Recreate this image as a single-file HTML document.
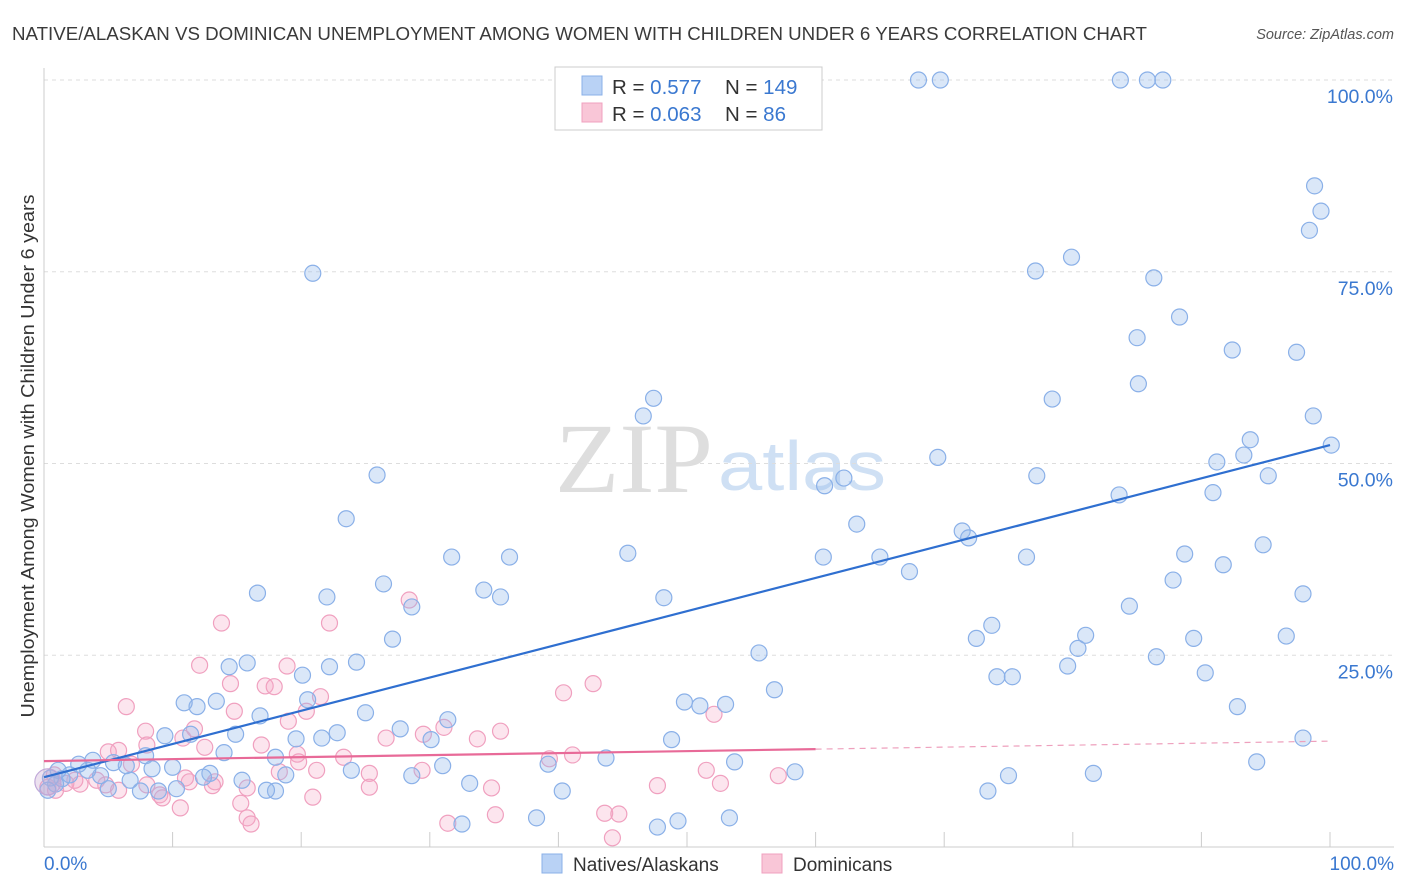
<!DOCTYPE html>
<html><head><meta charset="utf-8">
<style>
body{margin:0;background:#fff;font-family:"Liberation Sans",sans-serif;}
#c{position:relative;width:1406px;height:892px;overflow:hidden;}
</style></head>
<body>
<div id="c">
<svg id="s" width="1406" height="892">
<text x="12" y="40" font-size="18" fill="#3a3a3a" textLength="1135" lengthAdjust="spacingAndGlyphs">NATIVE/ALASKAN VS DOMINICAN UNEMPLOYMENT AMONG WOMEN WITH CHILDREN UNDER 6 YEARS CORRELATION CHART</text>
<text x="1394" y="39" font-size="14.5" fill="#555" font-style="italic" text-anchor="end">Source: ZipAtlas.com</text>
<text x="555" y="492" font-size="100" fill="#dedede" textLength="158" lengthAdjust="spacingAndGlyphs" font-family="Liberation Serif,serif">ZIP</text>
<text x="718" y="490" font-size="70" fill="#cfe0f4" textLength="168" lengthAdjust="spacingAndGlyphs">atlas</text>
<text transform="translate(34,456) rotate(-90)" font-size="18" fill="#333" text-anchor="middle" textLength="523" lengthAdjust="spacingAndGlyphs">Unemployment Among Women with Children Under 6 years</text>
<g id="grid"></g><g id="pts"></g><g id="lines"></g>
<rect x="555" y="67" width="267" height="63" fill="#fff" stroke="#ccc"/>
<rect x="582" y="76" width="20" height="19" fill="#b9d2f5" stroke="#8ab0e8"/>
<rect x="582" y="103" width="20" height="19" fill="#f9c6d7" stroke="#f0a0bf"/>
<text x="612" y="94" font-size="20.5" fill="#333">R = <tspan fill="#3a78d0">0.577</tspan></text>
<text x="725" y="94" font-size="20.5" fill="#333">N = <tspan fill="#3a78d0">149</tspan></text>
<text x="612" y="121" font-size="20.5" fill="#333">R = <tspan fill="#3a78d0">0.063</tspan></text>
<text x="725" y="121" font-size="20.5" fill="#333">N = <tspan fill="#3a78d0">  86</tspan></text>
<text x="44" y="870" font-size="19" fill="#3a78d0">0.0%</text>
<text x="1394" y="870" font-size="19" fill="#3a78d0" text-anchor="end">100.0%</text>
<rect x="542" y="854" width="20" height="19" fill="#b9d2f5" stroke="#8ab0e8"/>
<text x="573" y="871" font-size="19" fill="#333">Natives/Alaskans</text>
<rect x="762" y="854" width="20" height="19" fill="#f9c6d7" stroke="#f0a0bf"/>
<text x="793" y="871" font-size="19" fill="#333">Dominicans</text>
</svg>
</div>
<script>
const yTicks=[25,50,75,100];
const yTickLabels=["25.0%","50.0%","75.0%","100.0%"];
const xTicks=[0,10,20,30,40,50,60,70,80,90,100];
const blueX=[20.9,25.9,23.5,16.6,22.0,26.4,28.6,27.1,31.7,36.2,34.2,35.5,45.4,47.4,46.6,48.2,55.6,56.8,60.6,60.7,62.2,63.2,65.0,67.3,69.5,71.4,71.9,72.5,73.7,74.1,75.3,76.4,77.2,78.4,77.1,79.9,79.6,80.4,81.0,83.6,84.4,85.0,85.1,86.3,88.3,86.5,87.8,88.7,89.4,90.3,90.9,91.2,91.7,92.4,93.3,93.8,94.8,95.2,96.6,97.4,97.9,98.7,98.8,98.4,99.3,100.1,68.0,69.7,83.7,85.8,87.0,92.8,97.9,94.3,81.6,75.0,73.4,58.4,53.7,53.0,51.0,49.8,48.8,49.3,47.7,53.3,43.7,40.3,38.3,39.2,33.1,32.5,31.0,31.4,30.1,28.6,27.7,24.3,22.2,25.0,22.8,23.9,21.6,20.5,20.1,19.6,18.8,18.0,18.0,17.3,16.8,15.8,14.4,13.4,14.9,14.0,15.4,12.9,12.4,11.9,10.9,11.4,10.0,9.4,7.9,8.4,7.5,8.9,10.3,6.7,6.4,5.4,5.0,4.4,3.8,3.4,2.7,2.0,1.4,0.9,0.5,0.3,1.1,56.0];
const blueY=[74.8,48.5,42.8,33.1,32.6,34.3,31.3,27.1,37.8,37.8,33.5,32.6,38.3,58.5,56.2,32.5,25.3,20.5,37.8,47.1,48.1,42.1,37.8,35.9,50.8,41.2,40.3,27.2,28.9,22.2,22.2,37.8,48.4,58.4,75.1,76.9,23.6,25.9,27.6,45.9,31.4,66.4,60.4,74.2,69.1,24.8,34.8,38.2,27.2,22.7,46.2,50.2,36.8,64.8,51.1,53.1,39.4,48.4,27.5,64.5,33.0,56.2,86.2,80.4,82.9,52.4,100,100,100,100,100,18.3,14.2,11.1,9.6,9.3,7.3,9.8,11.1,18.6,18.4,18.9,14.0,3.4,2.6,3.8,11.6,7.3,3.8,10.8,8.3,3.0,10.6,16.6,14.0,9.3,15.4,24.1,23.5,17.5,14.9,10.0,14.2,19.2,22.4,14.1,9.4,11.7,7.3,7.4,17.1,24.0,23.5,19.0,14.7,12.3,8.7,9.6,9.1,18.3,18.8,14.7,10.4,14.5,11.9,10.2,7.3,7.3,7.6,8.7,10.6,11.0,7.6,9.3,11.3,10.0,10.8,9.4,8.9,8.2,9.0,7.4,10.0,100];
const pinkX=[13.8,28.4,22.2,12.1,14.5,17.2,17.9,18.9,21.5,20.4,19.0,14.8,11.7,6.4,7.9,10.8,12.5,16.9,19.7,19.8,23.3,26.6,29.5,31.1,33.7,35.5,40.4,42.7,41.1,39.3,52.1,51.5,52.6,57.1,47.7,43.6,44.7,44.2,31.4,35.1,34.8,29.4,25.3,25.3,21.2,20.9,18.3,15.8,15.3,15.8,16.1,13.3,13.1,11.3,11.0,10.6,9.0,9.2,8.0,8.0,6.8,5.8,5.0,4.8,5.8,4.1,2.8,2.4,1.7,0.9,0.3,0.8];
const pinkY=[29.2,32.2,29.2,23.7,21.3,21.0,20.9,23.6,19.6,17.7,16.4,17.7,15.4,18.3,15.1,14.2,13.0,13.3,12.1,11.1,11.7,14.2,14.7,15.6,14.1,15.1,20.1,21.3,12.0,11.5,17.3,10.0,8.3,9.3,8.0,4.4,4.3,1.2,3.1,4.2,7.7,10.0,9.6,7.8,10.0,6.5,9.8,7.7,5.7,3.8,3.0,8.5,8.0,8.5,9.0,5.1,6.8,6.4,8.1,13.3,10.8,12.6,12.4,8.1,7.4,8.7,8.2,8.7,8.3,7.4,7.8,9.4];
const blueTrend=[9.1,52.4];
const pinkTrend=[11.2,13.8];
const X=v=>44+v*12.86, Y=v=>847-v*7.67;
const NS="http://www.w3.org/2000/svg";
function mk(t,a,p){const e=document.createElementNS(NS,t);for(const k in a)e.setAttribute(k,a[k]);p.appendChild(e);return e;}
const g=document.getElementById('grid');
yTicks.forEach((v,i)=>{
 const l=mk('line',{x1:44,x2:1394,y1:Y(v),y2:Y(v),stroke:'#ddd','stroke-dasharray':'4,4'},g);
 
 
 const t=mk('text',{x:1393,y:Y(v)+23,'font-size':19.5,fill:'#3a78d0','text-anchor':'end'},g);
 t.textContent=yTickLabels[i];
 
 
});
const ax=mk('line',{x1:44,x2:44,y1:68,y2:847,stroke:'#ccc'},g);


const bx=mk('line',{x1:44,x2:1394,y1:847,y2:847,stroke:'#ccc'},g);


xTicks.forEach(v=>{
 const l=mk('line',{x1:X(v),x2:X(v),y1:832,y2:847,stroke:'#ccc'},g);
 
 
});
const P=document.getElementById('pts');
pinkX.forEach((x,i)=>{
 const c=mk('circle',{cx:X(x),cy:Y(pinkY[i]),r:8,fill:'rgba(246,170,200,0.3)',stroke:'#f0a0bf','stroke-width':1.2},P);
 
 
});
blueX.forEach((x,i)=>{
 const c=mk('circle',{cx:X(x),cy:Y(blueY[i]),r:8,fill:'rgba(150,185,235,0.35)',stroke:'#8ab0e8','stroke-width':1.2},P);
 
 
});
const big=mk('circle',{cx:X(0.3),cy:Y(8.5),r:13,fill:'rgba(200,170,210,0.35)',stroke:'#c0a8d8','stroke-width':1.2},P);


const L=document.getElementById('lines');
const bl=mk('line',{x1:X(0),y1:Y(blueTrend[0]),x2:X(100),y2:Y(blueTrend[1]),stroke:'#2f6fd0','stroke-width':2.2},L);


const pm=pinkTrend[0]+(pinkTrend[1]-pinkTrend[0])*0.6;
const pl=mk('line',{x1:X(0),y1:Y(pinkTrend[0]),x2:X(60),y2:Y(pm),stroke:'#e86a98','stroke-width':2.2},L);


const pd=mk('line',{x1:X(60),y1:Y(pm),x2:X(100),y2:Y(pinkTrend[1]),stroke:'#eea0bd','stroke-width':1.2,'stroke-dasharray':'6,5'},L);


</script>
</body></html>
